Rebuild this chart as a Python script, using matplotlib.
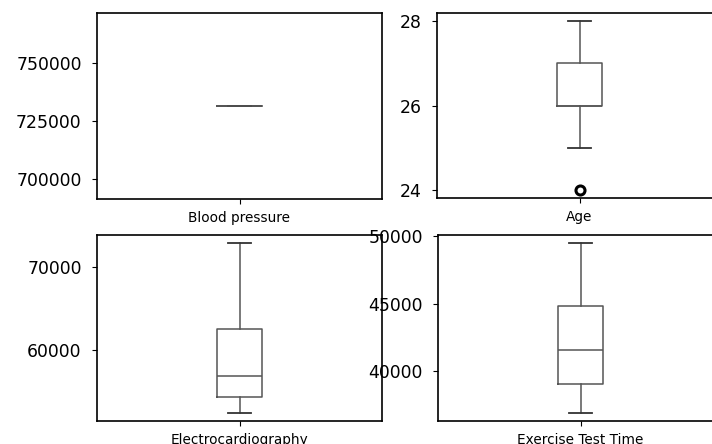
import matplotlib.pyplot as plt
from matplotlib.ticker import MultipleLocator

# raw values per column
blood_pressure = [731600]
age = [24, 25, 26, 26, 26, 27, 27, 27, 28]
electrocardiography = [52500, 54370, 56880, 62550, 72900]
exercise_test_time = [36875, 39000, 41500, 44830, 49475]

columns = ["Blood pressure", "Age", "Electrocardiography", "Exercise Test Time"]
values = [blood_pressure, age, electrocardiography, exercise_test_time]
tick_steps = [25000, 2, 10000, 5000]

W, H = 712, 444
# axes boxes in pixels: left, top, right, bottom
boxes = [
    (97, 13, 382, 199),
    (437, 13, 722, 198),
    (97, 235, 382, 421),
    (438, 235, 723, 421),
]

fig = plt.figure(figsize=(W / 100, H / 100), dpi=100)
line_col = "#555555"

for (l, t, r, b), name, vals, step in zip(boxes, columns, values, tick_steps):
    ax = fig.add_axes([l / W, 1 - b / H, (r - l) / W, (b - t) / H])
    ax.boxplot(vals, widths=0.16,
               boxprops=dict(color=line_col, lw=1.1),
               whiskerprops=dict(color=line_col, lw=1.1),
               capprops=dict(color="#333333", lw=1.3),
               medianprops=dict(color=line_col, lw=1.1),
               flierprops=dict(marker="o", markerfacecolor="none",
                               markeredgecolor="black", markersize=6.5,
                               markeredgewidth=2.2))
    for ln in ax.lines:
        ln.set_clip_on(False)
    ax.yaxis.set_major_locator(MultipleLocator(step))
    ax.set_xticks([1])
    ax.set_xticklabels([name], fontsize=9.8)
    ax.tick_params(axis="x", pad=5)
    ax.tick_params(axis="y", labelsize=12.4, pad=7.5)
    for s in ax.spines.values():
        s.set_linewidth(1.2)

fig.savefig("out.png", dpi=100)
